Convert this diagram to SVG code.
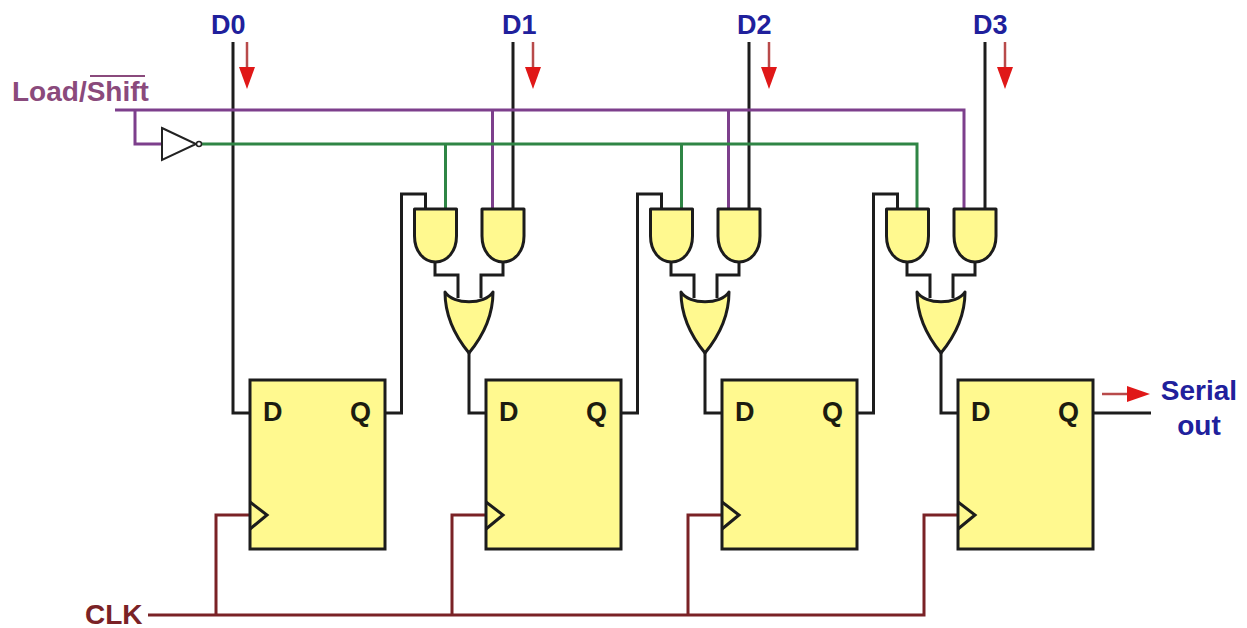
<svg xmlns="http://www.w3.org/2000/svg" width="1247" height="628" viewBox="0 0 1247 628">
<style>
text{font-family:"Liberation Sans",Arial,sans-serif;font-weight:bold;font-size:27px}
.w{fill:none;stroke-width:3;stroke-linejoin:miter}
.k{stroke:#1c1c1c}.p{stroke:#7d3f8c}.g{stroke:#2f8545}.m{stroke:#7a2226}
.gate{fill:#fff98f;stroke:#1c1c1c;stroke-width:3;stroke-linejoin:round}
.ff{fill:#fff98f;stroke:#1c1c1c;stroke-width:3}
.ck{fill:none;stroke:#1c1c1c;stroke-width:3}
.lb{fill:#20209c}.ql{fill:#1c1c10}.big{font-size:28px}
.ar{fill:none;stroke:#b84a4a;stroke-width:2.500}
.ah{fill:#e01818}
</style>
<defs>
<path id="and" d="M0 0H42V27C42 42 33 53 21 53C9 53 0 42 0 27Z"/>
<path id="or" d="M0 0C8 13 40 13 48 0C48 25 38 44 24 61C10 44 0 25 0 0Z"/>
<g id="ffb">
<rect class="ff" x="0" y="0" width="135" height="169"/>
<path class="ck" d="M0 122L17 135L0 149"/>
<text class="ql" x="13" y="41">D</text>
<text class="ql" x="100" y="41">Q</text>
</g>
<g id="arrD">
<path class="ar" d="M0 0V27"/>
<path class="ah" d="M-8 25H8L0 47Z"/>
</g>
</defs>
<g id="connectors">
<path class="w k" d="M233 42V413H250"/>
<path class="w k" d="M513 42V208M749 42V208M985 42V208"/>
<path class="w p" d="M115 110H964V208M135 110V144H162M492.500 110V208M728.500 110V208"/>
<path class="w g" d="M202 144H917V208M445.500 144V208M681.500 144V208"/>
<path class="w k" d="M385 413H401.500V194H425.500V208M621 413H637.500V194H661.500V208M857 413H873.500V194H897.500V208"/>
<path class="w k" d="M435 262V275H458V298M503 262V275H481V298M469 353V413H486"/>
<path class="w k" d="M671 262V275H694V298M739 262V275H717V298M705 353V413H722"/>
<path class="w k" d="M907 262V275H930V298M975 262V275H953V298M941 353V413H958"/>
<path class="w k" d="M1093 413H1151"/>
<path class="w m" d="M148 615H924V515H958M216 615V515H250M452 615V515H486M688 615V515H722"/>
</g>
<g id="inverter">
<path d="M162 128L196 144L162 160Z" fill="#fff" stroke="#222" stroke-width="2"/>
<circle cx="199" cy="144" r="2.500" fill="#fff" stroke="#222" stroke-width="1.500"/>
</g>
<g id="and1"><use href="#and" class="gate" x="414.500" y="209"/></g>
<g id="and2"><use href="#and" class="gate" x="482" y="209"/></g>
<g id="or1"><use href="#or" class="gate" x="445" y="292"/></g>
<g id="and3"><use href="#and" class="gate" x="650.500" y="209"/></g>
<g id="and4"><use href="#and" class="gate" x="718" y="209"/></g>
<g id="or2"><use href="#or" class="gate" x="681" y="292"/></g>
<g id="and5"><use href="#and" class="gate" x="886.500" y="209"/></g>
<g id="and6"><use href="#and" class="gate" x="954" y="209"/></g>
<g id="or3"><use href="#or" class="gate" x="917" y="292"/></g>
<g id="ff0"><use href="#ffb" x="250" y="380"/></g>
<g id="ff1"><use href="#ffb" x="486" y="380"/></g>
<g id="ff2"><use href="#ffb" x="722" y="380"/></g>
<g id="ff3"><use href="#ffb" x="958" y="380"/></g>
<g id="flow-arrows">
<use href="#arrD" x="247" y="42"/>
<use href="#arrD" x="533" y="42"/>
<use href="#arrD" x="769" y="42"/>
<use href="#arrD" x="1005" y="42"/>
<path class="ar" d="M1102 394H1128"/>
<path class="ah" d="M1127 386L1150 394L1127 402Z"/>
</g>
<g id="labels">
<text class="lb" x="211" y="34">D0</text>
<text class="lb" x="502" y="34">D1</text>
<text class="lb" x="737" y="34">D2</text>
<text class="lb" x="973" y="34">D3</text>
<text class="big" x="12" y="101" fill="#8a4a7c">Load/Shift</text>
<path d="M90 76H145" stroke="#8a4a7c" stroke-width="2" fill="none"/>
<text class="lb big" x="1199" y="400" text-anchor="middle">Serial</text>
<text class="lb big" x="1199" y="435" text-anchor="middle">out</text>
<text class="big" x="85" y="624" fill="#7a2226">CLK</text>
</g>
</svg>
